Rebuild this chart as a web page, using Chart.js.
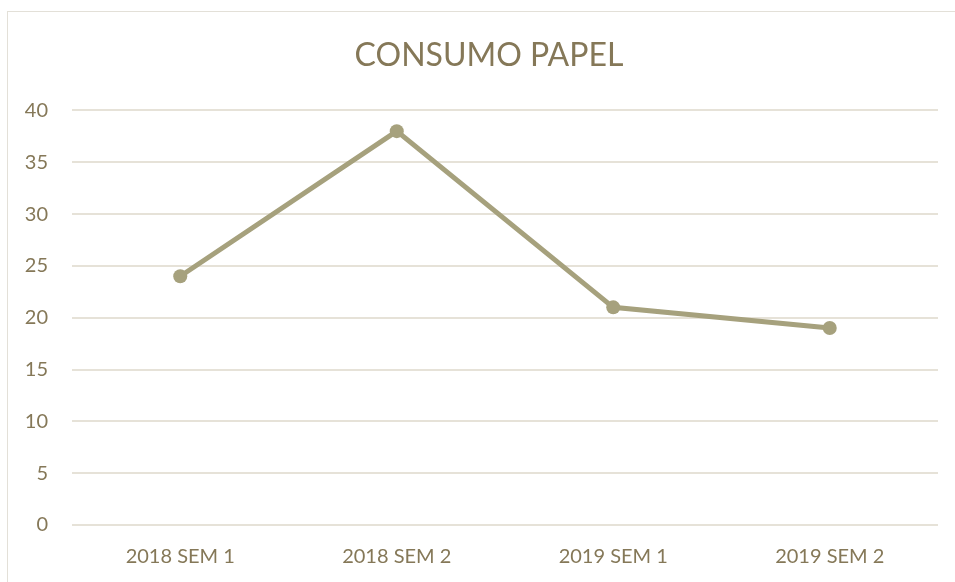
<!DOCTYPE html>
<html>
<head>
<meta charset="utf-8">
<script src="https://cdn.jsdelivr.net/npm/chart.js@4"></script>
<style>
  body { margin: 0; background: #ffffff; }
  #frame {
    position: absolute; left: 7px; top: 11px; width: 980px; height: 600px;
    border: 1.5px solid #e3e0d8; box-sizing: border-box;
  }
  #wrap { position: absolute; left: 0; top: 0; width: 955px; height: 582px; }
</style>
</head>
<body>
<div id="frame"></div>
<div id="wrap"><canvas id="paperChart"></canvas></div>
<script>
// Chart data
const categories = ["2018 SEM 1", "2018 SEM 2", "2019 SEM 1", "2019 SEM 2"];
const consumo = [24, 38, 21, 19];
const yTicks = [0, 5, 10, 15, 20, 25, 30, 35, 40];

const textColor = "#857858";
const lineColor = "#a6a17d";
const gridColor = "#e6e2d8";

// Shift the title box so it centres on the framed area, like the original
const titleShift = {
  id: "titleShift",
  afterLayout(chart) {
    if (chart.titleBlock) chart.titleBlock.left += 40;
  },
};

document.addEventListener("DOMContentLoaded", function () {
  const ctx = document.getElementById("paperChart");

  new Chart(ctx.getContext("2d"), {
    type: "line",
    data: {
      labels: categories,
      datasets: [
        {
          label: "Consumo",
          data: consumo,
          borderColor: lineColor,
          backgroundColor: lineColor,
          borderWidth: 5,
          pointRadius: 7,
          pointHoverRadius: 7,
          pointBorderWidth: 0,
          tension: 0,
        },
      ],
    },
    options: {
      responsive: true,
      maintainAspectRatio: false,
      animation: false,
      layout: { padding: { left: 0, right: 17, top: 0, bottom: 0 } },
      plugins: {
        legend: { display: false },
        tooltip: { enabled: false },
        title: {
          display: true,
          text: "CONSUMO PAPEL",
          color: textColor,
          font: { family: "Lato", size: 32, weight: "normal" },
          padding: { top: 36, bottom: 36 },
        },
      },
      scales: {
        x: {
          offset: true,
          grid: { display: false },
          border: { display: false },
          ticks: {
            color: textColor,
            font: { family: "Lato", size: 20 },
            padding: 12,
            maxRotation: 0,
          },
          afterFit: function (scale) {
            scale.height = 57;
          },
        },
        y: {
          min: 0,
          max: 40,
          afterBuildTicks: function (scale) {
            scale.ticks = yTicks.map((v) => ({ value: v }));
          },
          grid: { color: gridColor, lineWidth: 2, drawTicks: false },
          border: { display: false },
          ticks: {
            color: textColor,
            font: { family: "Lato", size: 20 },
            padding: 24,
          },
          afterFit: function (scale) {
            scale.width = 72;
          },
        },
      },
    },
    plugins: [titleShift],
  });
});
</script>
</body>
</html>
